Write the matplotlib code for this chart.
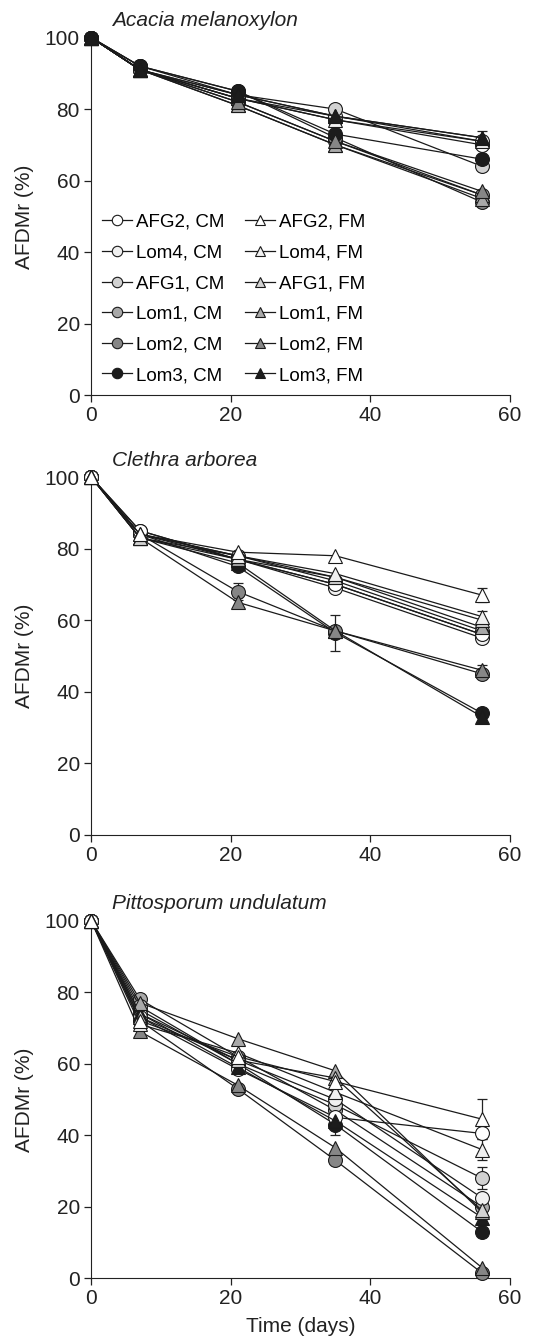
import matplotlib
matplotlib.use('Agg')
import matplotlib.pyplot as plt
from matplotlib.lines import Line2D

plt.rcParams['font.family'] = ['Liberation Sans', 'DejaVu Sans']

# sampling days
days = [0, 7, 21, 35, 56]

# series labels (CM = circles, FM = triangles)
labels = ['AFG2, CM', 'Lom4, CM', 'AFG1, CM', 'Lom1, CM', 'Lom2, CM', 'Lom3, CM',
          'AFG2, FM', 'Lom4, FM', 'AFG1, FM', 'Lom1, FM', 'Lom2, FM', 'Lom3, FM']
fills = ['#ffffff', '#f0f0f0', '#d2d2d2', '#a9a9a9', '#868686', '#1c1c1c'] * 2
markers = ['o'] * 6 + ['^'] * 6

species = ['Acacia melanoxylon', 'Clethra arborea', 'Pittosporum undulatum']

# AFDMr (%) per series, same order as labels
acacia = [
    [100, 91, 83, 77, 70],
    [100, 91, 84, 78, 71],
    [100, 92, 84, 80, 64],
    [100, 91, 82, 71, 56],
    [100, 92, 85, 72, 54],
    [100, 92, 85, 73, 66],
    [100, 91, 83, 78, 72],
    [100, 91, 83, 77, 71],
    [100, 91, 81, 70, 56],
    [100, 91, 81, 70, 55],
    [100, 91, 82, 71, 57],
    [100, 91, 84, 78, 72],
]
clethra = [
    [100, 85, 77, 70, 56],
    [100, 84, 77, 69, 55],
    [100, 84, 78, 71, 57],
    [100, 85, 77, 70, 56],
    [100, 84, 68, 57, 45],
    [100, 84, 75, 56.5, 34],
    [100, 84, 79, 78, 67],
    [100, 84, 78, 73, 61],
    [100, 83, 78, 72, 60],
    [100, 83, 77, 72, 58],
    [100, 83, 65, 57, 46],
    [100, 83, 76, 57, 33],
]
pittosporum = [
    [100, 73, 58.5, 45, 40.5],
    [100, 74, 61, 50, 22.5],
    [100, 76, 60, 48.5, 28],
    [100, 78, 62, 47, 20],
    [100, 72, 53, 33, 1.5],
    [100, 75, 60, 43, 13],
    [100, 72, 62, 55, 44.5],
    [100, 71, 63, 52, 36],
    [100, 73, 61, 56, 19],
    [100, 77, 67, 58, 18.5],
    [100, 69, 54, 36.5, 3],
    [100, 74, 59, 44, 17],
]

# visible standard errors: (series index, day index, error)
acacia_err = [(11, 4, 2.0), (5, 3, 1.5)]
clethra_err = [(4, 2, 2.5), (5, 3, 5.0), (6, 4, 2.0), (7, 4, 1.5), (10, 4, 1.5)]
pittosporum_err = [(6, 4, 5.5), (7, 4, 3.0), (2, 4, 3.0), (5, 3, 3.0), (8, 4, 2.5)]

panels = [acacia, clethra, pittosporum]
panel_errs = [acacia_err, clethra_err, pittosporum_err]
# drawing order (last one ends up on top)
orders = [list(range(12)),
          [5, 4, 3, 2, 1, 0, 11, 10, 9, 8, 7, 6],
          [5, 4, 3, 2, 1, 0, 11, 10, 9, 8, 7, 6]]

fig = plt.figure(figsize=(5.39, 13.40), dpi=100)
bottoms = [0.705, 0.377, 0.046]
axes = [fig.add_axes([0.169, b, 0.777, 0.267]) for b in bottoms]

for ax, data, errs, name, order in zip(axes, panels, panel_errs, species, orders):
    for s, d, err in errs:
        ax.errorbar(days[d], data[s][d], yerr=err,
                    fmt='none', ecolor='#222222', elinewidth=0.9, capsize=3.5, capthick=0.9,
                    clip_on=False, zorder=2)
    for k, i in enumerate(order):
        ax.plot(days, data[i], color='#1a1a1a', lw=0.9, marker=markers[i],
                ms=10 if markers[i] == 'o' else 10.5,
                mfc=fills[i], mec='#1a1a1a', mew=0.8, clip_on=False, zorder=3 + k * 0.01)
    ax.set_xlim(0, 60)
    ax.set_ylim(0, 100)
    ax.set_xticks([0, 20, 40, 60])
    ax.set_yticks([0, 20, 40, 60, 80, 100])
    ax.spines['top'].set_visible(False)
    ax.spines['right'].set_visible(False)
    ax.spines['left'].set_color('#222222')
    ax.spines['bottom'].set_color('#222222')
    ax.tick_params(direction='out', length=5, width=0.9, labelsize=15, colors='#222222', pad=3)
    ax.set_ylabel('AFDMr (%)', fontsize=15, color='#222222', labelpad=8)
    ax.text(0.05, 1.02, name, transform=ax.transAxes, fontsize=15, style='italic',
            color='#222222', va='bottom', ha='left')

axes[2].set_xlabel('Time (days)', fontsize=15, color='#222222', labelpad=6)

handles = [Line2D([0], [0], color='#1a1a1a', lw=0.9, marker=markers[i], ms=7.5,
                  mfc=fills[i], mec='#1a1a1a', mew=0.8) for i in range(len(labels))]
axes[0].legend(handles, labels, ncol=2, loc='lower left', bbox_to_anchor=(0.0, 0.0),
               frameon=False, fontsize=13.5, handlelength=1.6, handletextpad=0.2,
               columnspacing=1.1, labelspacing=0.72, borderaxespad=0.2)

fig.savefig('out.png', dpi=100)
